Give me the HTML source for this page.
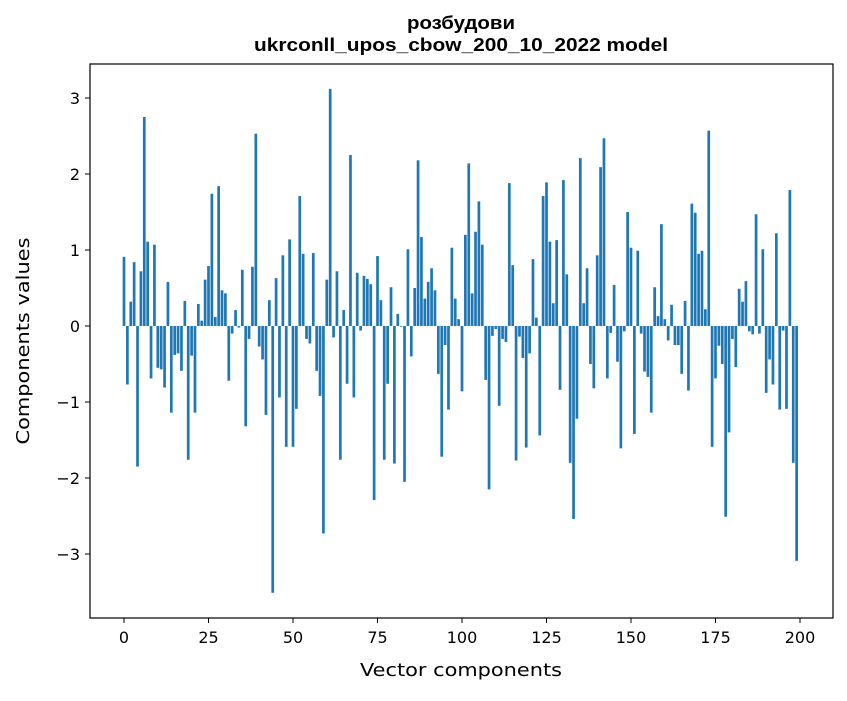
<!DOCTYPE html>
<html><head><meta charset="utf-8"><style>
body{margin:0;background:#fff;}
svg text{font-family:"DejaVu Sans","Liberation Sans",sans-serif;fill:#000;}
svg text.title{font-family:"Liberation Sans","DejaVu Sans",sans-serif;}
</style></head><body>
<svg width="847" height="696" xmlns="http://www.w3.org/2000/svg">
<rect width="847" height="696" fill="#fff"/>
<text class="title" x="461" y="29" text-anchor="middle" font-size="18" font-weight="bold" textLength="108" lengthAdjust="spacingAndGlyphs">розбудови</text>
<text class="title" x="461" y="51" text-anchor="middle" font-size="18" font-weight="bold" textLength="414" lengthAdjust="spacingAndGlyphs">ukrconll_upos_cbow_200_10_2022 model</text>
<g id="bars"></g>
<g id="xticks"></g>
<g id="yticks"></g>
<rect x="90" y="64" width="743" height="554" fill="none" stroke="#000" stroke-width="1.2"/>
<text x="461" y="676" text-anchor="middle" font-size="18" textLength="202" lengthAdjust="spacingAndGlyphs">Vector components</text>
<text transform="translate(29,341) rotate(-90)" text-anchor="middle" font-size="18" textLength="207" lengthAdjust="spacingAndGlyphs">Components values</text>
</svg>
<script>
const values = [0.91,-0.77,0.32,0.84,-1.85,0.72,2.75,1.11,-0.69,1.07,
-0.55,-0.57,-0.81,0.58,-1.14,-0.38,-0.36,-0.59,0.33,-1.76,
-0.39,-1.14,0.29,0.07,0.61,0.79,1.74,0.12,1.84,0.47,
0.43,-0.72,-0.10,0.21,-0.02,0.74,-1.32,-0.17,0.78,2.53,
-0.27,-0.44,-1.17,0.34,-3.51,0.63,-0.94,0.93,-1.59,1.14,
-1.59,-1.09,1.71,0.95,-0.17,-0.23,0.96,-0.59,-0.92,-2.73,
0.61,3.12,-0.15,0.72,-1.76,0.21,-0.76,2.25,-0.94,0.70,
-0.06,0.66,0.62,0.55,-2.29,0.92,0.34,-1.76,-0.76,0.51,
-1.81,0.16,-0.01,-2.05,1.01,-0.40,0.50,2.18,1.17,0.36,
0.58,0.76,0.47,-0.63,-1.72,-0.25,-1.10,1.03,0.36,0.09,
-0.86,1.20,2.14,0.43,1.24,1.64,1.07,-0.71,-2.15,-0.13,
-0.04,-1.05,-0.17,-0.21,1.88,0.80,-1.77,-0.14,-0.42,-1.60,
-0.36,0.88,0.11,-1.44,1.71,1.89,1.11,0.30,1.13,-0.84,
1.92,0.68,-1.80,-2.54,-1.22,2.21,0.30,0.76,-0.50,-0.82,
0.93,2.09,2.47,-0.69,-0.09,0.54,-0.47,-1.61,-0.07,1.50,
1.03,-1.42,0.99,-0.10,-0.60,-0.67,-1.14,0.51,0.13,1.34,
0.09,-0.19,0.28,-0.25,-0.25,-0.63,0.33,-0.85,1.61,1.49,
0.95,0.99,0.22,2.57,-1.59,-0.69,-0.26,-0.50,-2.51,-1.40,
-0.17,-0.54,0.49,0.32,0.59,-0.07,-0.11,1.47,-0.10,1.01,
-0.88,-0.44,-0.77,1.22,-1.10,-0.06,-1.09,1.79,-1.80,-3.09];
const xTickLabels = ["0","25","50","75","100","125","150","175","200"];
const xTickValues = [0,25,50,75,100,125,150,175,200];
const yTickValues = [-3,-2,-1,0,1,2,3];
const yTickLabels = ["\u22123","\u22122","\u22121","0","1","2","3"];

const NS="http://www.w3.org/2000/svg";
function xs(v){return 124+3.38*v;}
function ys(v){return 326-76*v;}
const bars=document.getElementById('bars');
values.forEach((v,i)=>{
  const r=document.createElementNS(NS,'rect');
  const w=3.38*0.8;
  r.setAttribute('x',xs(i)-w/2);
  r.setAttribute('width',w);
  r.setAttribute('y',Math.min(ys(v),ys(0)));
  r.setAttribute('height',Math.abs(ys(v)-ys(0)));
  r.setAttribute('fill','#1f77b4');
  
  
  bars.appendChild(r);
});
const xt=document.getElementById('xticks');
xTickValues.forEach((v,i)=>{
  const l=document.createElementNS(NS,'line');
  l.setAttribute('x1',xs(v));l.setAttribute('x2',xs(v));
  l.setAttribute('y1',618);l.setAttribute('y2',623);
  l.setAttribute('stroke','#000');
  
  
  xt.appendChild(l);
  const t=document.createElementNS(NS,'text');
  t.setAttribute('x',xs(v));t.setAttribute('y',643);
  t.setAttribute('text-anchor','middle');t.setAttribute('font-size','16');
  t.textContent=xTickLabels[i];
  
  
  xt.appendChild(t);
});
const yt=document.getElementById('yticks');
yTickValues.forEach((v,i)=>{
  const l=document.createElementNS(NS,'line');
  l.setAttribute('x1',85);l.setAttribute('x2',90);
  l.setAttribute('y1',ys(v));l.setAttribute('y2',ys(v));
  l.setAttribute('stroke','#000');
  
  
  yt.appendChild(l);
  const t=document.createElementNS(NS,'text');
  t.setAttribute('x',80);t.setAttribute('y',ys(v)+6);
  t.setAttribute('text-anchor','end');t.setAttribute('font-size','16');
  t.textContent=yTickLabels[i];
  
  
  yt.appendChild(t);
});
</script>
</body></html>
